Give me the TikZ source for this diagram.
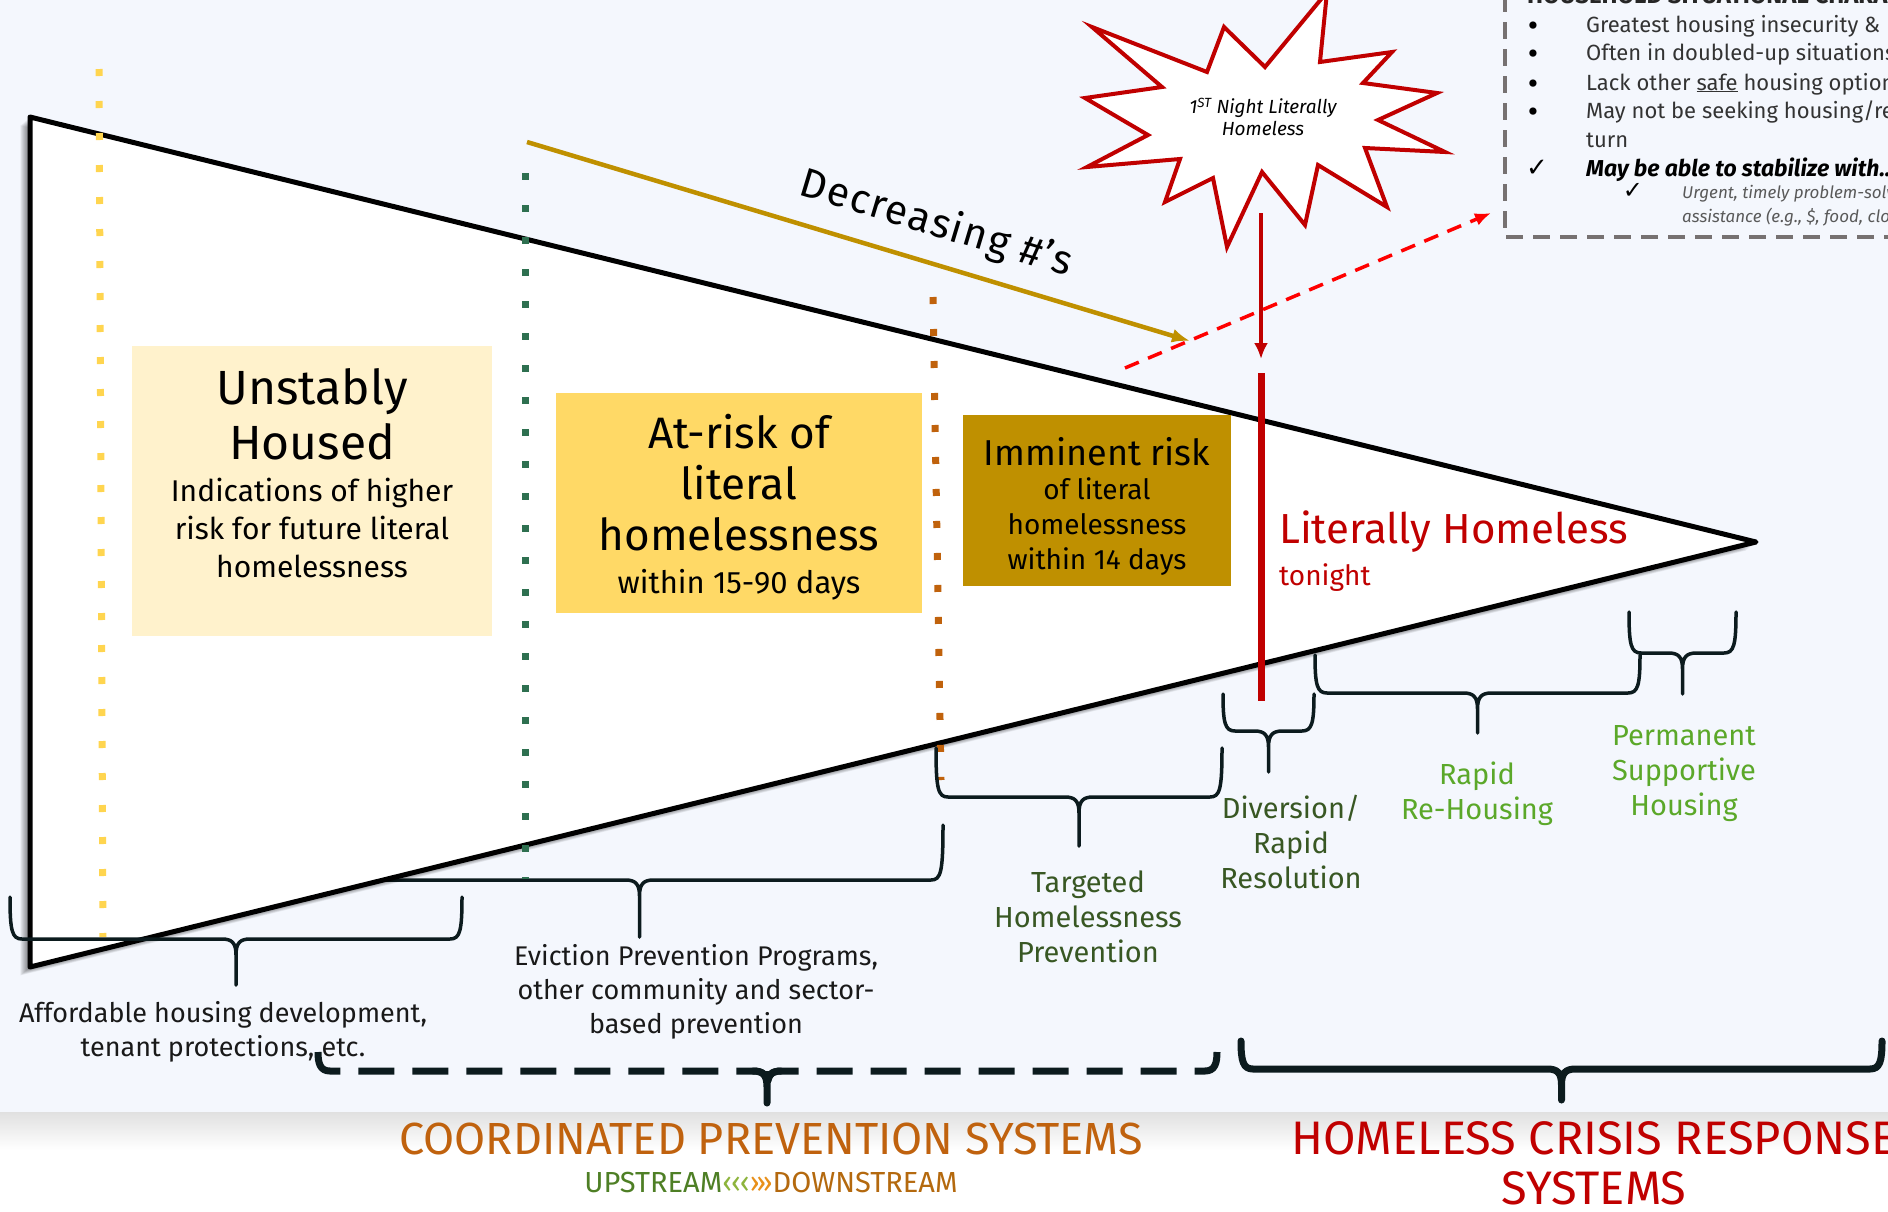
\documentclass[tikz,border=0pt]{standalone}
\usepackage{fontspec}
\setmainfont{Fira Sans}
\newfontfamily\checkfont{DejaVu Sans}
\usepackage{xcolor}
\definecolor{pagebg}{HTML}{F4F7FD}
\definecolor{lightbox}{HTML}{FFF2CC}
\definecolor{midbox}{HTML}{FFD966}
\definecolor{darkbox}{HTML}{BF9000}
\definecolor{crisisred}{HTML}{C00000}
\definecolor{alertred}{HTML}{FF0000}
\definecolor{darkgreen}{HTML}{385723}
\definecolor{lightgreen}{HTML}{5BA829}
\definecolor{dotyellow}{HTML}{FFD54F}
\definecolor{dotgreen}{HTML}{2E7050}
\definecolor{dotorange}{HTML}{C0620C}
\definecolor{prevorange}{HTML}{C0620E}
\definecolor{upgreen}{HTML}{4E7F25}
\definecolor{chevgreen}{HTML}{8DB43C}
\definecolor{chevorange}{HTML}{E8901A}
\definecolor{downbrown}{HTML}{B4690E}
\definecolor{braceink}{HTML}{0C1B1E}
\definecolor{boxgray}{HTML}{767171}
\usepackage{tikz}
\usetikzlibrary{arrows.meta,positioning}

% curly bracket: [opts]{left x}{right x}{end y}{bar y}{tip y}
\newcommand{\drawbrace}[6][]{%
  \pgfmathsetmacro{\bracemid}{(#2+#3)/2}%
  \draw[bracestroke,#1] (#2,#4) .. controls (#2,#5-8) and (#2+2,#5) .. (#2+12,#5)
    -- (\bracemid-14,#5) .. controls (\bracemid-4,#5) and (\bracemid,#5+4) .. (\bracemid,#5+16)
    -- (\bracemid,#6)
    (#3,#4) .. controls (#3,#5-8) and (#3-2,#5) .. (#3-12,#5)
    -- (\bracemid+14,#5) .. controls (\bracemid+4,#5) and (\bracemid,#5+4) .. (\bracemid,#5+16);
}

\begin{document}
\begin{tikzpicture}[x=1pt, y=-1pt, inner sep=0pt,
    stagebox/.style={rectangle, draw=none},
    dotline/.style={line width=7pt, dash pattern=on 7pt off 25pt},
    bracestroke/.style={draw=braceink, line width=3.5pt, line cap=round, line join=round},
    tiplabel/.style={align=center, font=\fontsize{29}{35}\selectfont},
    baselabel/.style={align=center, font=\fontsize{27}{34}\selectfont, text=black!90},
    systitle/.style={font=\fontsize{45}{48}\selectfont},
    sitline/.style={anchor=base west, font=\fontsize{22}{28}\selectfont, text=black!80}
  ]
  \path[use as bounding box] (0,0) rectangle (1888,1211);
  \clip (0,0) rectangle (1888,1211);

  % page
  \fill[white] (0,0) rectangle (1888,1211);
  \fill[pagebg] (0,0) rectangle (1888,1112);
  \shade[top color=black!12, bottom color=white] (0,1112) rectangle (1888,1150);

  % household situation box (cut off at the page edge)
  \draw[boxgray, line width=4pt, dash pattern=on 17pt off 10pt] (1505,-5) -- (1505,237) -- (1895,237);
  \node[anchor=base west, font=\bfseries\fontsize{24}{28}\selectfont, text=black!85] (sittitle) at (1527,3) {HOUSEHOLD SITUATIONAL CHARACTERISTICS};
  \foreach \y in {32,60,90,118}
    \node[anchor=base, font=\fontsize{32}{28}\selectfont] (bul\y) at (1533,\y+4) {•};
  \node[sitline] (sit1) at (1586,32) {Greatest housing insecurity \&};
  \node[sitline] (sit2) at (1586,60) {Often in doubled-up situations};
  \node[sitline] (sit3) at (1586,90) {Lack other \underline{safe} housing options};
  \node[sitline] (sit4) at (1586,118) {May not be seeking housing/resources in};
  \node[sitline] (sit5) at (1586,147) {turn};
  \node[anchor=base, font=\checkfont\fontsize{26}{28}\selectfont] (chk1) at (1537,176) {✓};
  \node[sitline, font=\bfseries\itshape\fontsize{23}{28}\selectfont, text=black] (sit6) at (1586,176) {May be able to stabilize with...};
  \node[anchor=base, font=\checkfont\fontsize{24}{24}\selectfont] (chk2) at (1633,198) {✓};
  \node[sitline, font=\itshape\fontsize{17}{22}\selectfont, text=black!65] (sit7) at (1682,198) {Urgent, timely problem-solving};
  \node[sitline, font=\itshape\fontsize{17}{22}\selectfont, text=black!65] (sit8) at (1682,222) {assistance (e.g., \$, food, clothing)};

  % brace partly hidden by the funnel
  \drawbrace{336}{943}{825}{880}{937}

  % funnel
  \coordinate (tl) at (30,117);
  \coordinate (bl) at (30,967);
  \coordinate (tip) at (1756,542);
  \foreach \s in {2,3,...,12}
    \fill[black, opacity=0.05] ([shift={(-\s*0.8,\s*0.7)}]tl) -- ([shift={(-\s*0.8,\s*0.7)}]tip) -- ([shift={(-\s*0.8,\s*0.7)}]bl) -- cycle;
  \filldraw[fill=white, draw=black, line width=5pt, line join=round] (tl) -- (tip) -- (bl) -- cycle;

  % stage dividers
  \draw[dotline, dotyellow] (99,69) -- (103,937);
  \draw[dotline, dotgreen] (525,173) -- (525,879);
  \draw[dotline, dotorange] (933,297) -- (941,780);

  % stages
  \node[stagebox, fill=lightbox, minimum width=360pt, minimum height=290pt] (unstbox) at (312,491) {};
  \node[font=\fontsize{48}{55}\selectfont, align=center, below=22pt of unstbox.north] (unsttitle) {Unstably\\Housed};
  \node[font=\fontsize{30}{38}\selectfont, align=center, below=18pt of unsttitle] (unstsub) {Indications of higher\\risk for future literal\\homelessness};

  \node[stagebox, fill=midbox, minimum width=366pt, minimum height=220pt] (riskbox) at (739,503) {};
  \node[font=\fontsize{44}{51}\selectfont, align=center, below=21pt of riskbox.north] (risktitle) {At-risk of\\literal\\homelessness};
  \node[font=\fontsize{31}{36}\selectfont, below=18pt of risktitle] (risksub) {within 15-90 days};

  \node[stagebox, fill=darkbox, minimum width=268pt, minimum height=171pt] (immbox) at (1097,500.5) {};
  \node[font=\fontsize{36}{40}\selectfont, below=22pt of immbox.north] (immtitle) {Imminent risk};
  \node[font=\fontsize{28}{35}\selectfont, align=center, below=12pt of immtitle] (immsub) {of literal\\homelessness\\within 14 days};

  \node[anchor=base west, text=crisisred, font=\fontsize{42}{46}\selectfont] (lhtitle) at (1279,543) {Literally Homeless};
  \node[anchor=base west, text=crisisred, font=\fontsize{28}{32}\selectfont] (lhsub) at (1279,585) {tonight};

  % first night marker
  \coordinate (lhtop) at (1261,373);
  \coordinate (lhbot) at (1261,701);
  \draw[crisisred, line width=7pt] (lhtop) -- (lhbot);
  \filldraw[fill=white, draw=crisisred, line width=4pt, line join=miter]
    (1327,-8) -- (1320,62) -- (1392,52) -- (1363,83) -- (1437,93) -- (1378,120)
    -- (1445,152) -- (1365,148) -- (1387,207) -- (1318,165) -- (1305,225) -- (1262,172)
    -- (1227,247) -- (1213,178) -- (1165,202) -- (1180,159) -- (1087,167) -- (1148,135)
    -- (1085,98) -- (1162,87) -- (1092,27) -- (1207,72) -- (1224,27) -- (1265,67) -- cycle;
  \node[align=center, font=\itshape\fontsize{19}{22}\selectfont] (burst) at (1263,117) {1\textsuperscript{ST} Night Literally\\Homeless};
  \coordinate (burstfoot) at (1261,213);
  \coordinate (lhmark) at (1261,359);
  \draw[crisisred, line width=4.5pt, -{Latex[length=16pt,width=14pt]}] (burstfoot) -- (lhmark);

  \coordinate (alertstart) at (1125,368);
  \coordinate (alertend) at (1491,213);
  \draw[alertred, line width=3.5pt, dash pattern=on 15pt off 10pt, -{Latex[length=16pt,width=13pt]}] (alertstart) -- (alertend);

  \coordinate (decrstart) at (527,142);
  \coordinate (decrend) at (1190,341);
  \draw[darkbox, line width=4.5pt, -{Latex[length=18pt,width=14pt]}] (decrstart) -- node[sloped, above=16pt, pos=0.6, text=black, font=\fontsize{41}{44}\selectfont\addfontfeature{LetterSpace=4}] (decrlabel) {Decreasing \#'s} (decrend);

  % braces
  \drawbrace{10}{462}{897}{939}{985}
  \drawbrace{936}{1222}{748}{797}{846}
  \drawbrace{1223}{1314}{694}{731}{772}
  \drawbrace{1315}{1640}{655}{693}{733}
  \drawbrace{1629}{1736}{612}{653}{694}
  \drawbrace[dash pattern=on 36pt off 18pt, line width=7pt, line cap=butt]{318}{1217}{1052}{1071}{1071}
  \draw[bracestroke, line width=7pt] (753,1071) .. controls (763,1071) and (767,1075) .. (767,1087) -- (767,1103)
    (781,1071) .. controls (771,1071) and (767,1075) .. (767,1087);
  \drawbrace[line width=7pt]{1241}{1882}{1041}{1069}{1100}

  % labels
  \node[baselabel] (afford) at (223,1032) {Affordable housing development,\\tenant protections, etc.};
  \node[baselabel] (evict) at (696,992) {Eviction Prevention Programs,\\other community and sector-\\based prevention};
  \node[tiplabel, text=darkgreen] (target) at (1088,917) {Targeted\\Homelessness\\Prevention};
  \node[tiplabel, text=darkgreen] (divert) at (1291,842) {Diversion/\\Rapid\\Resolution};
  \node[tiplabel, text=lightgreen] (rrh) at (1477,794) {Rapid\\Re-Housing};
  \node[tiplabel, text=lightgreen] (psh) at (1684,774) {Permanent\\Supportive\\Housing};

  \node[systitle, text=prevorange] (cps) at (771,1139) {COORDINATED PREVENTION SYSTEMS};
  \node[font=\fontsize{29}{30}\selectfont] (stream) at (771,1182) {\textcolor{upgreen}{UPSTREAM}\textcolor{chevgreen}{‹‹‹}\textcolor{chevorange}{›››}\textcolor{downbrown}{DOWNSTREAM}};
  \node[systitle, font=\fontsize{47}{50}\selectfont, align=center, text=crisisred] (hcrs) at (1594,1163) {HOMELESS CRISIS RESPONSE\\SYSTEMS};
\end{tikzpicture}
\end{document}
